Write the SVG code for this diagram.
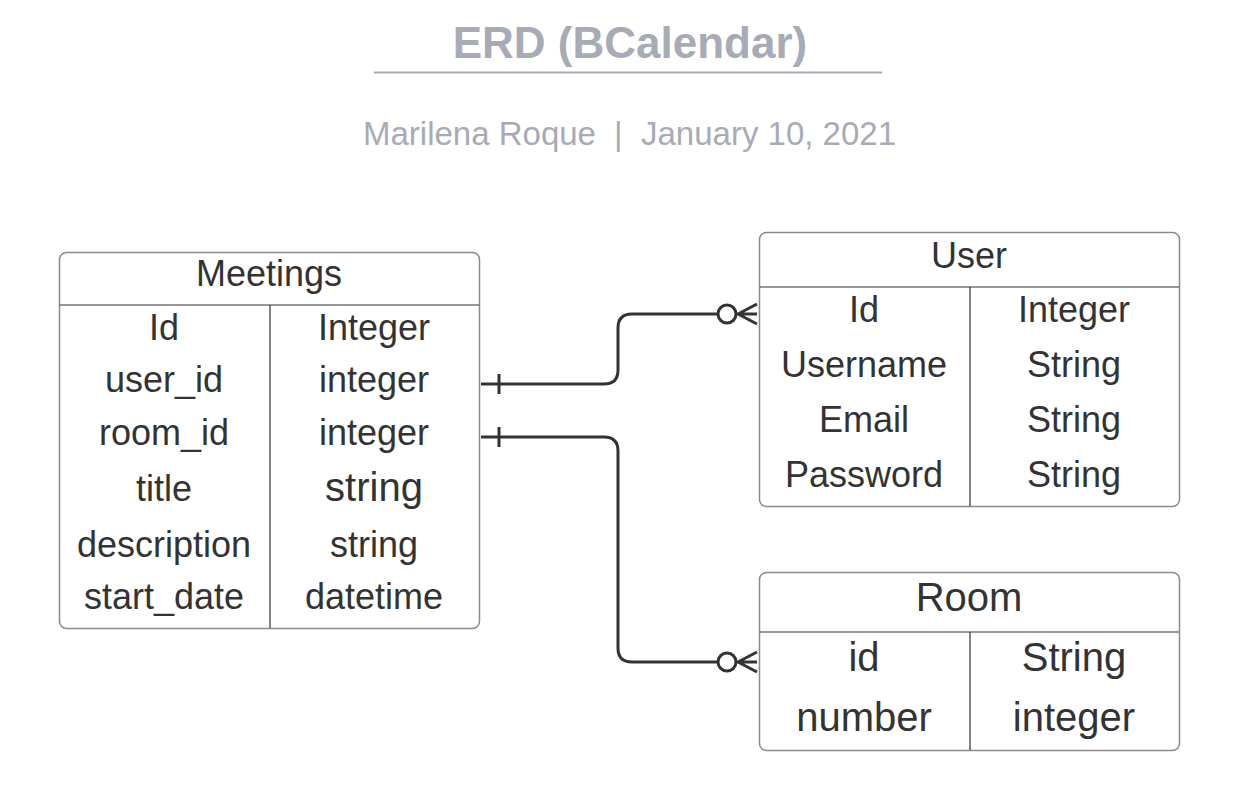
<svg xmlns="http://www.w3.org/2000/svg" width="1253" height="805" viewBox="0 0 1253 805">
<style>
  text { font-family: "Liberation Sans", Arial, sans-serif; fill: #333333; text-anchor: middle; }
  .title { font-size: 44px; font-weight: bold; fill: #a7abb6; }
  .sub { font-size: 33px; fill: #a7abb6; text-anchor: start; }
  .box { fill: #ffffff; stroke: #8a8a8a; stroke-width: 1.5; }
  .div { stroke: #333333; stroke-width: 1.2; }
  .m { font-size: 36px; }
  .u { font-size: 36px; }
  .r { font-size: 40px; }
  .conn { fill: none; stroke: #333333; stroke-width: 3; }
  .circ { fill: #ffffff; stroke: #333333; stroke-width: 3; }
</style>
<rect width="1253" height="805" fill="#ffffff"/>
<g id="header">
  <text class="title" x="630" y="58">ERD (BCalendar)</text>
  <line x1="374" y1="72.5" x2="882" y2="72.5" stroke="#a7abb6" stroke-width="2"/>
  <text class="sub" x="363" y="145">Marilena Roque</text>
  <text class="sub" x="614" y="145">|</text>
  <text class="sub" x="641" y="145">January 10, 2021</text>
</g>
<g id="meetings">
  <rect class="box" x="59.5" y="252.5" width="420" height="376" rx="7"/>
  <line class="div" x1="60" y1="305" x2="479" y2="305"/>
  <line class="div" x1="270" y1="305" x2="270" y2="628"/>
  <text class="m" x="269" y="286">Meetings</text>
  <text class="m" x="164" y="340">Id</text>
  <text class="m" x="374" y="340">Integer</text>
  <text class="m" x="164" y="392">user_id</text>
  <text class="m" x="374" y="392">integer</text>
  <text class="m" x="164" y="445">room_id</text>
  <text class="m" x="374" y="445">integer</text>
  <text class="m" x="164" y="501">title</text>
  <text class="r" x="374" y="501">string</text>
  <text class="m" x="164" y="557">description</text>
  <text class="m" x="374" y="557">string</text>
  <text class="m" x="164" y="609">start_date</text>
  <text class="m" x="374" y="609">datetime</text>
</g>
<g id="user">
  <rect class="box" x="759.5" y="232.5" width="420" height="274" rx="7"/>
  <line class="div" x1="760" y1="287" x2="1179" y2="287"/>
  <line class="div" x1="970" y1="287" x2="970" y2="506"/>
  <text class="u" x="969" y="268">User</text>
  <text class="u" x="864" y="322">Id</text>
  <text class="u" x="1074" y="322">Integer</text>
  <text class="u" x="864" y="377">Username</text>
  <text class="u" x="1074" y="377">String</text>
  <text class="u" x="864" y="432">Email</text>
  <text class="u" x="1074" y="432">String</text>
  <text class="u" x="864" y="487">Password</text>
  <text class="u" x="1074" y="487">String</text>
</g>
<g id="room">
  <rect class="box" x="759.5" y="572.5" width="420" height="178" rx="7"/>
  <line class="div" x1="760" y1="632" x2="1179" y2="632"/>
  <line class="div" x1="970" y1="632" x2="970" y2="750"/>
  <text class="r" x="969" y="611">Room</text>
  <text class="r" x="864" y="671">id</text>
  <text class="r" x="1074" y="671">String</text>
  <text class="r" x="864" y="731">number</text>
  <text class="r" x="1074" y="731">integer</text>
</g>
<g id="connectors">
  <path class="conn" d="M481,384 H604 Q618,384 618,370 V328 Q618,314 632,314 H718"/>
  <line class="conn" x1="499" y1="374" x2="499" y2="394"/>
  <circle class="circ" cx="727" cy="314" r="9"/>
  <path class="conn" d="M736,314 H757 M738,314 L757,304 M738,314 L757,324"/>
  <path class="conn" d="M481,437 H604 Q618,437 618,451 V648 Q618,662 632,662 H718"/>
  <line class="conn" x1="499" y1="427" x2="499" y2="447"/>
  <circle class="circ" cx="727" cy="662" r="9"/>
  <path class="conn" d="M736,662 H757 M738,662 L757,652 M738,662 L757,672"/>
</g>
</svg>
